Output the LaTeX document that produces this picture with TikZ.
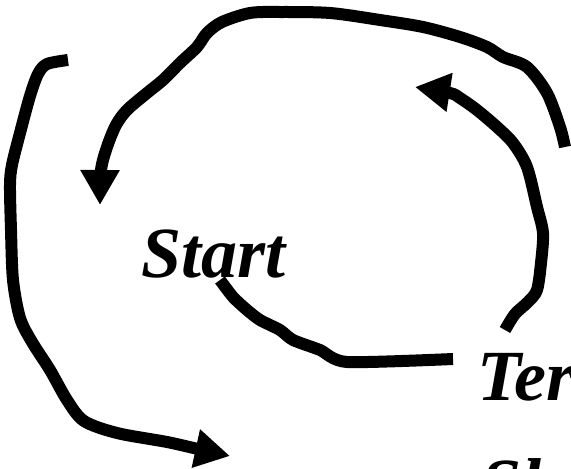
\documentclass[tikz,border=0pt]{standalone}
\usepackage{fontspec}
\setmainfont{Liberation Serif}
\usetikzlibrary{arrows.meta}
\begin{document}
\begin{tikzpicture}
        [x=1pt, y=-1pt,
        stroke/.style={line width=12pt, line join=round},
        arrowed/.style={stroke, -{Triangle[length=35pt, width=37pt]}},
        word/.style={anchor=base west, inner sep=0pt, font=\fontsize{72}{72}\selectfont\bfseries\itshape}]
        \useasboundingbox (0,0) rectangle (571,469);

        \node[word] (start) at (141,277) {Start};
        \node[word] (ter) at (477,400) {Ter};
        \node[word] (sl) at (481,508) {Sl};

        % left loop down to the bottom
        \draw[arrowed] plot[smooth, tension=0.5] coordinates {(68,60) (47,64) (38,74) (30,96) (20,133) (12,165) (10,185) (11,230) (13,280) (20,318) (32,342) (50,370) (67,400) (84,421) (117,433) (167,442) (198,449) (230,456)};
        % big arc over the top
        \draw[arrowed] plot[smooth, tension=0.5] coordinates {(565,147) (560,127) (547,93) (527,67) (503,57) (487,47) (460,37) (423,27) (380,20) (330,13) (280,12) (250,13) (222,22) (207,33) (197,47) (180,63) (163,80) (147,93) (127,110) (116,125) (107,147) (101,170) (100,205)};
        % right arc going up
        \draw[arrowed] plot[smooth, tension=0.5] coordinates {(505,330) (515,314) (528,302) (537,290) (541,263) (543,233) (537,207) (527,167) (513,143) (497,127) (477,110) (460,98) (450,93) (415,87)};
        % lower connector
        \draw[stroke] plot[smooth, tension=0.4] coordinates {(453,359) (347,362) (320,350) (293,340) (280,330) (260,320) (247,310) (233,297) (220,280)};
\end{tikzpicture}
\end{document}
